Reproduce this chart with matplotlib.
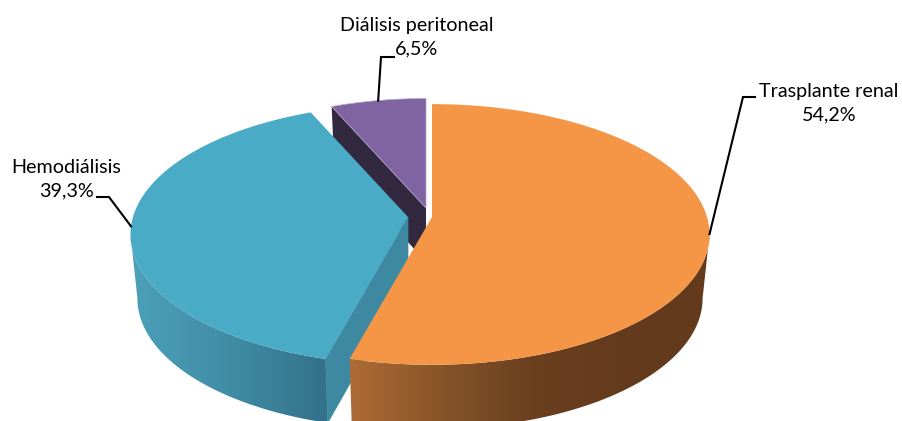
import numpy as np
import matplotlib
matplotlib.use('Agg')
import matplotlib.pyplot as plt
from matplotlib.patches import Polygon
from matplotlib.colors import LinearSegmentedColormap

#data
labels = ['Trasplante renal', 'Hemodiálisis', 'Diálisis peritoneal']
values = [54.2, 39.3, 6.5]
value_labels = ['54,2%', '39,3%', '6,5%']

#colors of top faces
top_colors = ['#F49646', '#4AABC6', '#8064A2']

#view of the 3d pie, in pixels
A = 275.0
B = 128.0
K = 0.134
SHRINK = 0.975
apex = [(432, 217), (408, 217), (426, 208)]
radius = [1.0, 1.0, 0.97]
depth = [64, 64, 54]


def project(theta, c, r):
    u = np.sin(np.radians(theta))
    v = np.cos(np.radians(theta))
    w = 1 + K * v
    return c[0] + r * A * u / w, c[1] - r * B * v / w


def lower(x, y, c, d):
    return c[0] + (x - c[0]) * SHRINK, y + d


def top_face(t0, t1, c, r):
    t = np.linspace(t0, t1, 200)
    x, y = project(t, c, r)
    return np.column_stack([np.r_[c[0], x], np.r_[c[1], y]])


def side_face(t0, t1, c, r, d):
    t = np.linspace(t0, t1, 200)
    x, y = project(t, c, r)
    xb, yb = lower(x, y, c, d)
    return np.column_stack([np.r_[x, xb[::-1]], np.r_[y, yb[::-1]]])


def wall(t, c, r, d):
    x, y = project(t, c, r)
    xb, yb = lower(x, y, c, d)
    return [c, (x, y), (xb, yb), (c[0], c[1] + d)]


def gradient_side(ax, pts, colors, x0, x1, z):
    cmap = LinearSegmentedColormap.from_list('side', colors)
    im = ax.imshow(np.linspace(0, 1, 256).reshape(1, -1), cmap=cmap, aspect='auto',
                   extent=(x0, x1, 421, 0), zorder=z, interpolation='bilinear')
    im.set_clip_path(Polygon(pts, closed=True, transform=ax.transData))


edges = np.r_[0, np.cumsum(values)] / sum(values) * 360
#angle where the rim is widest, only the skin in front of it shows
widest = np.degrees(np.arccos(-K))

fig = plt.figure(figsize=(9.03, 4.21), dpi=100)
ax = fig.add_axes([0, 0, 1, 1])

#purple slice, only its cut face shows
ax.add_patch(Polygon(wall(edges[2], apex[2], radius[2], depth[2]), fc='#32283F', ec='none', zorder=1))
ax.add_patch(Polygon(top_face(edges[2], edges[3], apex[2], radius[2]), fc=top_colors[2], ec='#B9A8CE', lw=0.5, zorder=2))

#blue slice
gradient_side(ax, side_face(edges[1], 360 - widest, apex[1], radius[1], depth[1]),
              [(0.30, 0.63, 0.73), (0.25, 0.55, 0.65), (0.20, 0.44, 0.53)], 128, 332, 3)
ax.add_patch(Polygon(wall(edges[1], apex[1], radius[1], depth[1]), fc='#3D89A1', ec='#3D89A1', lw=0.5, zorder=4))
ax.add_patch(Polygon(top_face(edges[1], edges[2], apex[1], radius[1]), fc=top_colors[1], ec='none', zorder=5))

#orange slice
gradient_side(ax, side_face(widest, edges[1], apex[0], radius[0], depth[0]),
              [(0.68, 0.42, 0.21), (0.53, 0.33, 0.16), (0.42, 0.25, 0.12), (0.39, 0.23, 0.11), (0.39, 0.23, 0.11)],
              350, 712, 6)
ax.add_patch(Polygon(top_face(edges[0], edges[1], apex[0], radius[0]), fc=top_colors[0], ec='none', zorder=7))

#leader lines start at the middle of each slice
knees = [[(743, 97), (755, 97)], [(109, 197), (97, 197)], [(381, 57), (394, 57)]]
for i in range(3):
    x, y = project((edges[i] + edges[i + 1]) / 2, apex[i], radius[i])
    xs = [x] + [p[0] for p in knees[i]]
    ys = [y] + [p[1] for p in knees[i]]
    ax.plot(xs, ys, color='black', lw=1.5, zorder=8, solid_joinstyle='miter')

#labels
text_pos = [(829, 103), (66, 179), (417, 37)]
for i in range(3):
    ax.text(text_pos[i][0], text_pos[i][1], labels[i] + '\n' + value_labels[i], ha='center', va='center',
            family='Lato', fontsize=14.2, color='black', linespacing=1.42, zorder=9)

ax.set_xlim(0, 903)
ax.set_ylim(421, 0)
ax.axis('off')

fig.savefig('out.png', dpi=100)
